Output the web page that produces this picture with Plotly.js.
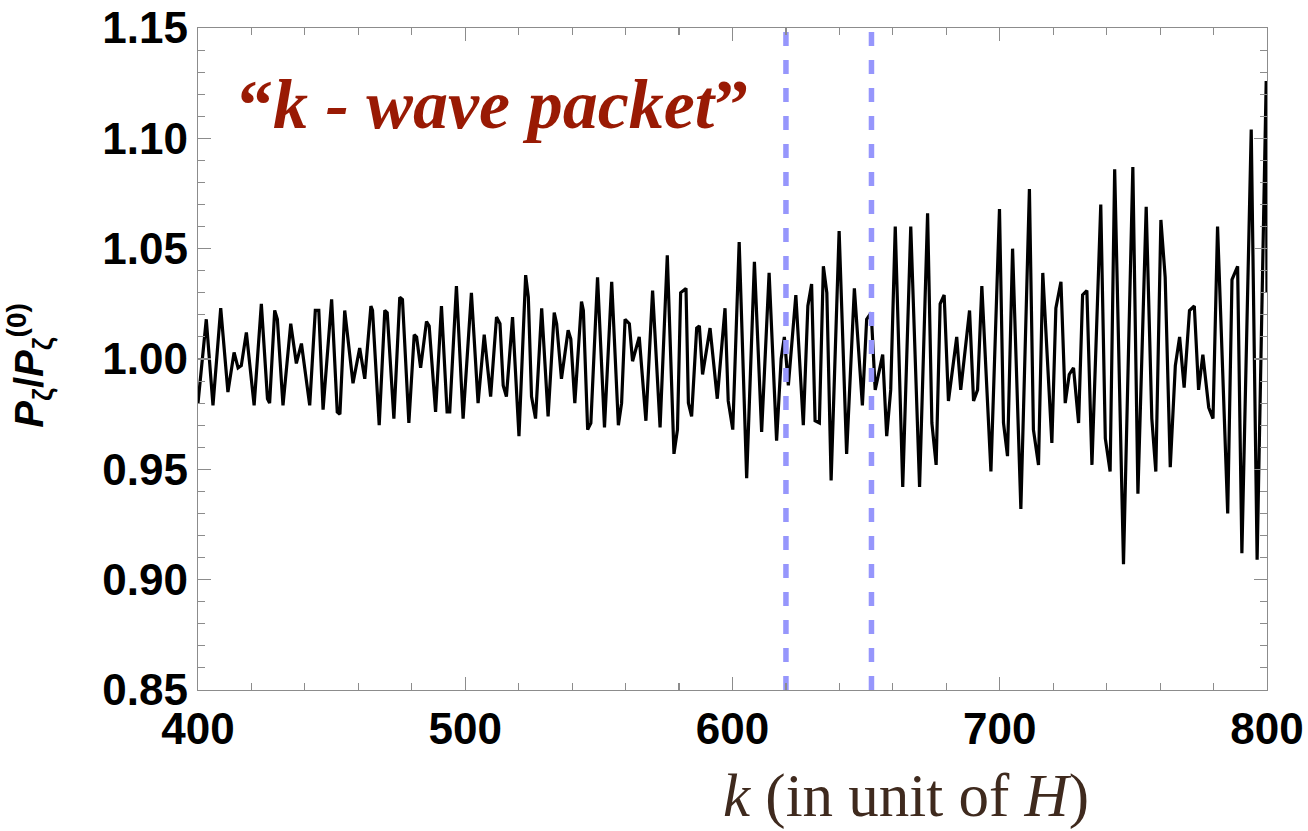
<!DOCTYPE html>
<html><head><meta charset="utf-8">
<script src="https://cdn.plot.ly/plotly-3.0.1.min.js"></script>
<style>html,body{margin:0;padding:0;background:#fff}#chart{width:1308px;height:831px}</style>
</head><body><div id="chart"></div>
<script>
// wavenumber k (in unit of H)
const k = [
400.0,403.1,405.6,408.5,411.2,413.5,415.0,416.2,418.1,421.0,423.7,426.0,426.8,428.7,429.7,431.8,434.7,436.8,438.7,441.8,443.9,445.2,446.8,450.0,
452.1,453.1,454.9,458.0,460.5,462.4,464.7,465.3,467.8,469.9,470.8,473.3,475.5,476.5,478.9,480.9,481.8,483.3,485.5,486.5,488.9,491.1,493.2,494.2,496.7,499.2,
502.3,504.8,507.1,509.5,511.7,513.0,514.2,515.4,517.7,520.1,522.6,523.6,524.8,526.3,528.6,531.0,533.3,534.2,536.0,538.5,539.5,541.0,543.5,544.2,545.8,547.0,549.5,
552.1,554.8,557.3,558.5,559.8,561.4,562.6,565.1,567.6,570.1,572.9,575.6,578.1,579.4,580.6,582.6,583.5,584.7,586.6,587.6,588.8,591.6,594.3,597.2,598.4,600.1,602.5,
605.3,608.2,610.9,613.7,616.5,618.2,619.4,620.9,623.7,626.5,628.2,629.6,630.9,632.5,634.0,635.3,636.9,639.9,642.7,645.6,648.6,650.2,651.9,
653.4,656.2,657.7,659.2,660.9,663.7,666.7,670.0,673.0,674.6,676.2,677.7,679.2,680.8,683.9,685.4,688.7,690.2,691.7,693.3,696.7,699.9,701.4,702.9,
704.8,707.9,711.1,712.6,714.5,716.1,719.5,721.0,722.9,724.5,726.0,727.6,729.5,731.0,732.6,734.5,737.8,739.5,741.3,743.0,746.3,749.8,751.7,
754.8,756.9,758.4,760.3,761.9,763.8,765.7,767.3,769.0,771.0,772.8,774.4,776.0,778.2,779.8,781.5,785.3,786.9,789.0,790.6,794.1,796.3,799.7,800.0
];
// P_zeta / P_zeta^(0)
const ratio = [
0.980,1.018,0.979,1.023,0.985,1.003,0.996,0.997,1.012,0.979,1.025,0.982,0.980,1.022,1.018,0.979,1.016,0.998,1.007,0.979,1.022,1.022,0.977,1.027,
0.976,0.975,1.022,0.989,1.005,0.991,1.024,1.022,0.970,1.022,1.021,0.973,1.028,1.027,0.971,1.011,1.010,0.996,1.017,1.015,0.976,1.024,0.976,0.976,1.033,0.973,
1.030,0.980,1.011,0.983,1.019,1.016,0.988,0.983,1.019,0.965,1.038,1.028,0.983,0.973,1.023,0.974,1.021,1.016,0.991,1.013,1.009,0.980,1.026,1.022,0.968,0.971,1.037,
0.969,1.035,0.970,0.980,1.018,1.016,0.999,1.010,0.972,1.031,0.969,1.047,0.957,0.968,1.030,1.032,0.980,0.974,1.014,1.015,0.993,1.014,0.982,1.023,0.981,0.968,1.053,
0.946,1.044,0.967,1.039,0.963,1.000,1.010,0.988,1.029,0.970,1.024,1.034,0.972,0.971,1.042,1.030,0.945,1.058,0.957,1.032,0.979,1.018,1.021,
0.986,1.002,0.965,0.986,1.060,0.942,1.060,0.942,1.066,0.971,0.952,1.025,1.029,0.981,1.010,0.986,1.022,0.981,0.986,1.033,0.949,1.068,0.971,0.956,
1.050,0.932,1.077,0.968,0.952,1.039,0.962,1.023,1.035,0.980,0.993,0.996,0.971,1.029,1.031,0.952,1.070,0.964,0.949,1.086,0.907,1.087,0.939,
1.069,0.973,0.949,1.063,1.037,0.951,0.997,1.010,0.987,1.022,1.024,0.986,1.002,0.978,0.973,1.060,0.930,1.036,1.042,0.912,1.104,0.909,1.126,1.030
];
const packetEdges = [620, 652];
const xRange = [400, 800];
const yRange = [0.85, 1.15];
const xTicks = [400, 500, 600, 700, 800];
const yTicks = [0.85, 0.90, 0.95, 1.00, 1.05, 1.10, 1.15];

const traces = [{
  x: k, y: ratio, type: 'scatter', mode: 'lines',
  line: {color: '#000', width: 3.2}, hoverinfo: 'skip'
}];
packetEdges.forEach(e => traces.push({
  x: [e, e], y: yRange, type: 'scatter', mode: 'lines',
  line: {color: 'rgb(150,150,252)', width: 5.5, dash: '14px,14px'}, hoverinfo: 'skip'
}));

const tickFont = {family: 'Liberation Sans, Arial, sans-serif', size: 44, weight: 'bold', color: '#000'};
const axisCommon = {
  showgrid: false, zeroline: false, showline: true, linecolor: '#8c8c8c', linewidth: 1.3,
  mirror: 'ticks', ticks: 'inside', ticklen: 13, tickwidth: 1.2, tickcolor: '#8c8c8c',
  tickfont: tickFont
};

const layout = {
  width: 1308, height: 831,
  margin: {l: 198, r: 41, t: 28, b: 141},
  paper_bgcolor: '#fff', plot_bgcolor: '#fff',
  showlegend: false,
  xaxis: Object.assign({}, axisCommon, {
    range: xRange, tickvals: xTicks, ticktext: xTicks.map(String),
    minor: {dtick: 20, tick0: 400, ticks: 'inside', ticklen: 7, tickcolor: '#8c8c8c', tickwidth: 1.1}
  }),
  yaxis: Object.assign({}, axisCommon, {
    range: yRange, tickvals: yTicks, ticktext: yTicks.map(v => v.toFixed(2)),
    minor: {dtick: 0.01, tick0: 0.85, ticks: 'inside', ticklen: 7, tickcolor: '#8c8c8c', tickwidth: 1.1}
  }),
  annotations: [
    {text: '<b>“<i>k - wave packet</i>”</b>', xref: 'paper', yref: 'paper', x: 0.036, y: 0.885,
     xanchor: 'left', yanchor: 'middle', showarrow: false,
     font: {family: 'Liberation Serif, DejaVu Serif, serif', size: 70, color: '#991a04'}},
    {text: '<i>k</i> (in unit of <i>H</i>)', xref: 'paper', yref: 'paper', x: 0.662, y: -0.16,
     xanchor: 'center', yanchor: 'middle', showarrow: false,
     font: {family: 'Liberation Serif, DejaVu Serif, serif', size: 61, color: '#3f2a1e'}},
    {text: '<b><i>P</i><sub>ζ</sub>/<i>P</i><sub>ζ</sub><sup>(0)</sup></b>', xref: 'paper', yref: 'paper',
     x: -0.158, y: 0.49, xanchor: 'center', yanchor: 'middle', textangle: -90, showarrow: false,
     font: {family: 'Liberation Sans, Arial, sans-serif', size: 40, color: '#000'}}
  ]
};

Plotly.newPlot('chart', traces, layout, {displayModeBar: false, staticPlot: true});
</script>
</body></html>
